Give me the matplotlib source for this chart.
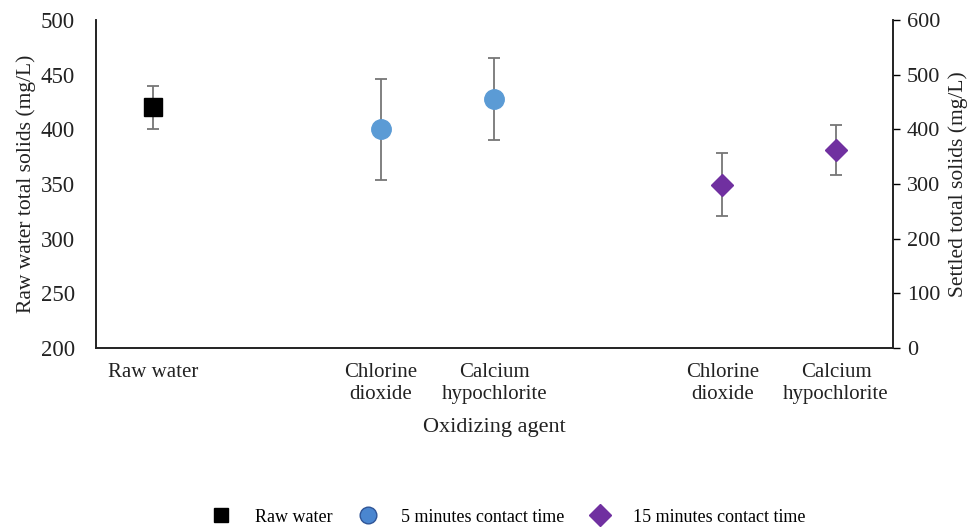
import numpy as np
import matplotlib.pyplot as plt

plt.rcParams['font.family'] = ['Liberation Serif', 'DejaVu Serif']

# category slots along the x axis (blank slots separate the groups)
categories = ["Raw water", "", "Chlorine\ndioxide", "Calcium\nhypochlorite",
              "", "Chlorine\ndioxide", "Calcium\nhypochlorite"]

# raw water (left axis)
raw_x = [0]
raw_val = [420]
raw_err = [20]

# settled water (right axis)
min5_x = [2, 3]
min5_val = [400, 455]
min5_err = [92, 75]

min15_x = [5, 6]
min15_val = [299, 362]
min15_err = [58, 46]

fig = plt.figure(figsize=(9.7, 5.29), dpi=100)
ax = fig.add_axes([96 / 970, 1 - 348 / 529, (893 - 96) / 970, (348 - 20) / 529])
ax2 = ax.twinx()

err_kw = dict(ecolor='#767676', elinewidth=1.3, capsize=4, capthick=1.3, ls='none')

h_raw = ax.errorbar(raw_x, raw_val, yerr=raw_err, marker='s', ms=13,
                    color='black', mfc='black', mec='black', **err_kw)
h_5 = ax2.errorbar(min5_x, min5_val, yerr=min5_err, marker='o', ms=14,
                   mfc='#5B9BD5', mec='#5B9BD5', **err_kw)
h_15 = ax2.errorbar(min15_x, min15_val, yerr=min15_err, marker='D', ms=11,
                    mfc='#7030A0', mec='#7030A0', **err_kw)

ax.set_xlim(-0.5, len(categories) - 0.5)
ax.set_ylim(200, 500)
ax2.set_ylim(0, 600)
ax.set_yticks(np.arange(200, 501, 50))
ax2.set_yticks(np.arange(0, 601, 100))
ax.set_xticks(range(len(categories)))
ax.set_xticklabels(categories, fontsize=15, color='#222222', linespacing=1.2)

ax.tick_params(axis='x', length=0, pad=11)
ax.tick_params(axis='y', length=0, pad=15, labelsize=16.5, labelcolor='#222222')
ax2.tick_params(axis='y', length=5, width=1, pad=5, labelsize=16, labelcolor='#222222')

for a in (ax, ax2):
    a.spines['top'].set_visible(False)
    for s in ('left', 'right', 'bottom'):
        a.spines[s].set_linewidth(1.2)
        a.spines[s].set_color('#222222')

ax.set_xlabel("Oxidizing agent", fontsize=16, labelpad=10, color='#222222')
ax.set_ylabel("Raw water total solids (mg/L)", fontsize=15.5, color='#222222')
ax.yaxis.set_label_coords(-0.075, 0.5)
ax2.set_ylabel("Settled total solids (mg/L)", fontsize=15.5, labelpad=6, color='#222222')

# legend handles without error bars
l1, = ax.plot([], [], ls='none', marker='s', ms=10, color='black')
l2, = ax.plot([], [], ls='none', marker='o', ms=12, mfc='#4A86D0', mec='#2F5597')
l3, = ax.plot([], [], ls='none', marker='D', ms=11, mfc='#7030A0', mec='#7030A0')
fig.legend([l1, l2, l3], ["Raw water", "5 minutes contact time", "15 minutes contact time"],
           loc='center', bbox_to_anchor=(0.52, 1 - 517 / 529), ncol=3, frameon=False,
           fontsize=13, columnspacing=0.95, handletextpad=0.85)

fig.savefig("out.png", dpi=100)
